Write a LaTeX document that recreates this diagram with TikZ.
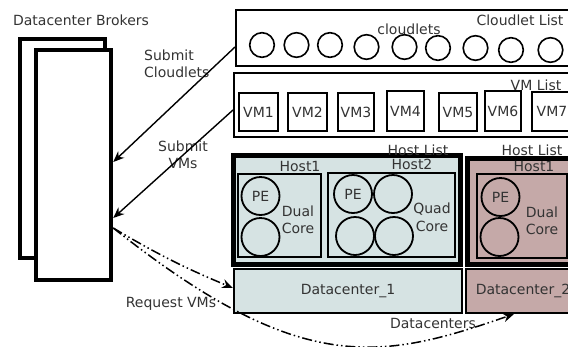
\documentclass[tikz,border=0pt]{standalone}
\usepackage{fontspec}
\setmainfont{DejaVu Sans}
\usetikzlibrary{arrows.meta,calc}
\definecolor{dcone}{HTML}{D6E3E3}
\definecolor{dctwo}{HTML}{C5A9A8}
\begin{document}
\begin{tikzpicture}[x=1pt,y=-1pt,
  txt/.style={font=\fontsize{14}{17.5}\selectfont, text=black!80, inner sep=0pt, align=center},
  bx/.style={draw=black, line width=2pt, inner sep=0pt},
  brk/.style={draw=black, line width=4.5pt, inner sep=0pt, fill=white},
  vmbox/.style={draw=black, line width=2.5pt, inner sep=0pt, font=\fontsize{14}{15}\selectfont, text=black!80},
  hlist/.style={draw=black, line width=5pt, inner sep=0pt},
  cld/.style={draw=black, circle, line width=1.6pt, inner sep=0pt, minimum size=24.6pt},
  pe/.style={draw=black, circle, line width=1.8pt, inner sep=0pt, minimum size=38pt, font=\fontsize{14}{15}\selectfont, text=black!80},
  dcbox/.style={draw=black, line width=2pt, inner sep=0pt, font=\fontsize{14}{15}\selectfont, text=black!80},
  arr/.style={draw=black, line width=1.4pt, -{Stealth[length=11pt,width=9pt]}},
  darr/.style={draw=black, line width=1.5pt, dash pattern=on 10pt off 3pt on 1.5pt off 3pt on 1.5pt off 3pt, -{Stealth[length=11pt,width=9pt]}}
]
\useasboundingbox (0,0) rectangle (568,346);

% brokers
\node[brk, minimum width=85pt, minimum height=219pt] (bkback) at (62.5,148.5) {};
\node[brk, minimum width=75pt, minimum height=230pt] (broker) at (73.5,165) {};
\node[txt] (lbrk) at (81,20) {Datacenter Brokers};

% cloudlet list
\node[bx, minimum width=344pt, minimum height=56pt] (cl) at (408,38) {};
\node[txt] (lcl) at (520,20) {Cloudlet List};
\node[txt] (lclt) at (409,29) {cloudlets};
\node[cld] (c1) at (262,45) {};
\node[cld] (c2) at (296.5,45) {};
\node[cld] (c3) at (330,45) {};
\node[cld] (c4) at (366.5,47) {};
\node[cld] (c5) at (404.5,47) {};
\node[cld] (c6) at (438,48) {};
\node[cld] (c7) at (475.5,48) {};
\node[cld] (c8) at (511,50) {};
\node[cld] (c9) at (550.5,50) {};

% VM list
\node[bx, minimum width=346pt, minimum height=64pt] (vml) at (407,105) {};
\node[txt] (lvm) at (536,85) {VM List};
\node[vmbox, minimum width=39pt, minimum height=38pt] (vm1) at (258.5,112) {VM1};
\node[vmbox, minimum width=39pt, minimum height=38pt] (vm2) at (307.5,112) {VM2};
\node[vmbox, minimum width=36pt, minimum height=38pt] (vm3) at (356,112) {VM3};
\node[vmbox, minimum width=37pt, minimum height=40pt] (vm4) at (405.5,111) {VM4};
\node[vmbox, minimum width=38pt, minimum height=38pt] (vm5) at (458,112) {VM5};
\node[vmbox, minimum width=36pt, minimum height=40pt] (vm6) at (503,111) {VM6};
\node[vmbox, minimum width=40pt, minimum height=39pt] (vm7) at (552,111.5) {VM7};

% host list 1
\node[hlist, fill=dcone, minimum width=227pt, minimum height=109pt] (hl1) at (346.5,209.5) {};
\node[txt] (lhl1) at (418,150) {Host List};
\node[bx, fill=dcone, minimum width=83pt, minimum height=83pt] (h11) at (279.5,215.5) {};
\node[bx, fill=dcone, minimum width=127pt, minimum height=84pt] (h12) at (391.5,215) {};
\node[txt] (lh11) at (300,166) {Host1};
\node[txt] (lh12) at (412,164) {Host2};
\node[pe] (p1a) at (260.5,196) {PE};
\node[pe] (p1b) at (260.5,237) {};
\node[txt] (ld1) at (298,220) {Dual\\Core};
\node[pe] (p2a) at (353,194) {PE};
\node[pe] (p2b) at (393,194) {};
\node[pe] (p2c) at (355,236) {};
\node[pe] (p2d) at (394,236) {};
\node[txt] (lq) at (432,217.5) {Quad\\Core};

% host list 2
\node[hlist, fill=dctwo, minimum width=113pt, minimum height=106pt] (hl2) at (523.5,211) {};
\node[txt] (lhl2) at (532,150) {Host List};
\node[bx, fill=dctwo, minimum width=90pt, minimum height=84pt] (h21) at (522,216) {};
\node[txt] (lh21) at (534,166) {Host1};
\node[pe] (p3a) at (500.5,197) {PE};
\node[pe] (p3b) at (499.5,237) {};
\node[txt] (ld2) at (542,221) {Dual\\Core};

% datacenters
\node[dcbox, fill=dcone, minimum width=228pt, minimum height=44pt] (dc1) at (348,291) {Datacenter\_1};
\node[dcbox, fill=dctwo, minimum width=114pt, minimum height=44pt] (dc2) at (523,291) {Datacenter\_2};
\node[txt] (ldcs) at (433,323) {Datacenters};

% labels
\node[txt, align=left, anchor=west] (lsc) at (144,64) {Submit\\Cloudlets};
\node[txt] (lsv) at (183,155) {Submit\\VMs};
\node[txt] (lrq) at (171,304) {Request VMs};

% connectors
\coordinate (rq) at ([yshift=-63pt]broker.east);
\draw[arr] ([yshift=-9pt]cl.west) -- ([yshift=3pt]broker.east);
\draw[arr] ([yshift=-5pt]vml.west) -- ([yshift=-53pt]broker.east);
\draw[darr] (rq) to[bend right=4] ([yshift=3pt]dc1.west);
\draw[darr] (rq) .. controls (300,376) and (379,361) .. ([xshift=-9pt]dc2.south);
\end{tikzpicture}
\end{document}
